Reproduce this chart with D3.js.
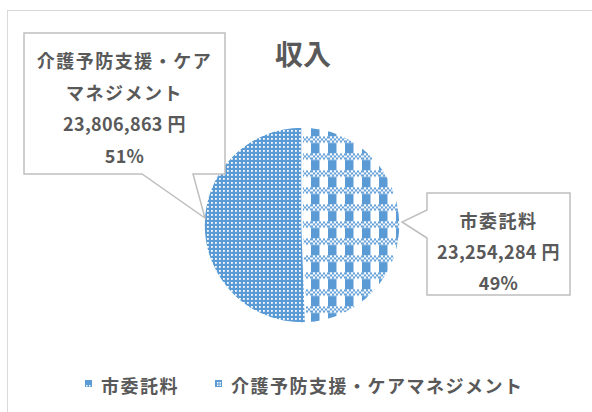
<!DOCTYPE html>
<html><head><meta charset="utf-8">
<script src="https://cdn.jsdelivr.net/npm/d3@7"></script>
<style>
html,body{margin:0;padding:0;background:#fff;}
svg{display:block;}
text{font-family:"Noto Sans CJK JP","Noto Sans",sans-serif;font-weight:bold;fill:#595959;}
</style></head>
<body>
<svg id="chart" width="592" height="412"></svg>
<script>
// ---- data ----
const categories = ["市委託料", "介護予防支援・ケアマネジメント"];
const values = [23254284, 23806863];
const labelLines = [["市委託料"], ["介護予防支援・ケア", "マネジメント"]];
const title = "収入";
const unit = "円";

const blue = "#5B9BD5";
const svg = d3.select("#chart");
const defs = svg.append("defs");

// plaid pattern (市委託料)
const p1 = defs.append("pattern").attr("id", "pat0").attr("patternUnits", "userSpaceOnUse")
  .attr("width", 17).attr("height", 17).attr("x", 9).attr("y", 13.3);
p1.append("rect").attr("width", 17).attr("height", 17).attr("fill", "#fff");
p1.append("rect").attr("x", 0).attr("y", 0).attr("width", 8.5).attr("height", 17).attr("fill", blue);
p1.append("rect").attr("x", 0).attr("y", 0).attr("width", 17).attr("height", 6.5).attr("fill", "#fff");
for (let yy = 0; yy < 6; yy += 2) {
  for (let xx = 0; xx < 17; xx += 2) {
    if (((xx + yy) / 2) % 2 === 0)
      p1.append("rect").attr("x", xx).attr("y", yy + 0.25).attr("width", 2).attr("height", 2).attr("fill", blue);
  }
}
// dotted grid pattern (介護予防支援)
const p2 = defs.append("pattern").attr("id", "pat1").attr("patternUnits", "userSpaceOnUse")
  .attr("width", 4).attr("height", 4);
p2.append("rect").attr("width", 4).attr("height", 4).attr("fill", blue);
p2.append("rect").attr("x", 1).attr("y", 1).attr("width", 1.8).attr("height", 1.8).attr("fill", "#fff");

// legend swatch patterns
const lp0 = defs.append("pattern").attr("id", "lpat0").attr("patternUnits", "objectBoundingBox")
  .attr("width", 1).attr("height", 1);
lp0.append("rect").attr("width", 7).attr("height", 7).attr("fill", blue);
lp0.append("rect").attr("x", 1).attr("y", 5).attr("width", 1.5).attr("height", 1.5).attr("fill", "#fff");
lp0.append("rect").attr("x", 4).attr("y", 5).attr("width", 1.5).attr("height", 1.5).attr("fill", "#fff");
const lp1 = defs.append("pattern").attr("id", "lpat1").attr("patternUnits", "objectBoundingBox")
  .attr("width", 1).attr("height", 1);
lp1.append("rect").attr("width", 7).attr("height", 7).attr("fill", blue);
lp1.append("rect").attr("x", 2).attr("y", 2).attr("width", 1.5).attr("height", 1.5).attr("fill", "#fff");
lp1.append("rect").attr("x", 2).attr("y", 4.5).attr("width", 1.5).attr("height", 1.5).attr("fill", "#fff");
lp1.append("rect").attr("x", 4.5).attr("y", 2).attr("width", 1.5).attr("height", 1.5).attr("fill", "#fff");
lp1.append("rect").attr("x", 4.5).attr("y", 4.5).attr("width", 1.5).attr("height", 1.5).attr("fill", "#fff");

// chart area border
svg.append("rect").attr("x", 7.5).attr("y", 10.5).attr("width", 620).attr("height", 430)
  .attr("fill", "#fff").attr("stroke", "#D9D9D9").attr("stroke-width", 1);

// title
svg.append("text").attr("x", 303).attr("y", 53).attr("text-anchor", "middle")
  .attr("dominant-baseline", "central").attr("font-size", 28).text(title);

// pie
const cx = 302, cy = 225, r = 98;
const pie = d3.pie().sort(null).startAngle(0).endAngle(2 * Math.PI);
const arcs = pie(values);
const arc = d3.arc().innerRadius(0).outerRadius(r);
const g = svg.append("g").attr("transform", `translate(${cx},${cy})`);
g.selectAll("path").data(arcs).join("path")
  .attr("d", arc)
  .attr("fill", (d, i) => `url(#pat${i})`)
  .attr("stroke", "#fff").attr("stroke-width", 1.5);

const total = d3.sum(values);
const fmtNum = d3.format(",");
const fmtPct = d3.format(".0%");

// callouts
const callouts = [
  { box: [427, 193, 570, 295], tip: [402, 222], side: "left", base: [210, 238], lineY0: 220, step: 31 },
  { box: [24, 33, 225, 174], tip: [205, 218], side: "bottom", base: [142, 193], lineY0: 60, step: 31.5 }
];
callouts.forEach((c, i) => {
  const [x0, y0, x1, y1] = c.box;
  const p = d3.path();
  if (c.side === "left") {
    p.moveTo(x0, y0); p.lineTo(x1, y0); p.lineTo(x1, y1); p.lineTo(x0, y1);
    p.lineTo(x0, c.base[1]); p.lineTo(c.tip[0], c.tip[1]); p.lineTo(x0, c.base[0]); p.closePath();
  } else {
    p.moveTo(x0, y0); p.lineTo(x1, y0); p.lineTo(x1, y1); p.lineTo(c.base[1], y1);
    p.lineTo(c.tip[0], c.tip[1]); p.lineTo(c.base[0], y1); p.lineTo(x0, y1); p.closePath();
  }
  svg.append("path").attr("d", p.toString()).attr("fill", "#fff")
    .attr("stroke", "#BFBFBF").attr("stroke-width", 1.5);
  const lines = [...labelLines[i], fmtNum(values[i]) + "\u2005" + unit, fmtPct(values[i] / total)];
  const mx = (x0 + x1) / 2;
  lines.forEach((t, k) => {
    svg.append("text").attr("x", mx).attr("y", c.lineY0 + k * c.step)
      .attr("text-anchor", "middle").attr("dominant-baseline", "central")
      .attr("font-size", 18).attr("letter-spacing", /[0-9]/.test(t) ? 0.3 : 1.5).text(t);
  });
});

// legend
const legendX = [85, 215];
categories.forEach((c, i) => {
  svg.append("rect").attr("x", legendX[i]).attr("y", 380).attr("width", 7).attr("height", 7)
    .attr("fill", `url(#lpat${i})`);
  svg.append("text").attr("x", legendX[i] + 16).attr("y", 385)
    .attr("dominant-baseline", "central").attr("font-size", 18).attr("letter-spacing", 1.5).text(c);
});
</script>
</body></html>
